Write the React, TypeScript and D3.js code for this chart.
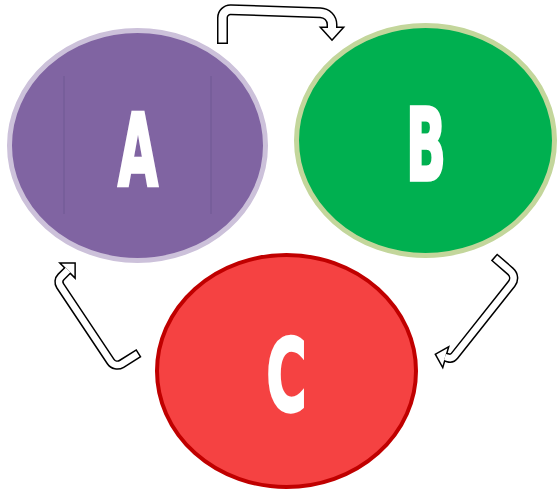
import * as d3 from "d3";

// cycle diagram: three nodes joined by block arrows
const labels = ["A", "B", "C"];
const fills = ["#8064a2", "#00b050", "#f54242"];
const rims = ["#ccc1da", "#c3d69b", "#c00000"];
const rimWidths = [5, 5, 4];

// layout (pixels)
const centers: [number, number][] = [
  [137.5, 145.5],
  [425.5, 140.5],
  [286.5, 371],
];
const radii: [number, number][] = [
  [128, 115],
  [129, 115],
  [129.5, 116],
];
const letterBottoms = [185, 180, 411];
const letterX = [138, 426, 286.5];

// arrow centrelines: A -> B, B -> C, C -> A
const arrows = [
  { pts: [[222.5, 44], [222.5, 9.5], [332, 13], [332, 28]], r: [8, 12], w: 8, hw: 10, hl: 11 },
  { pts: [[494, 257], [517, 277], [452, 359], [445, 357]], r: [9, 6], w: 6.5, hw: 9, hl: 9 },
  { pts: [[139, 353], [115, 368], [57, 281], [68, 270]], r: [8, 7], w: 6.5, hw: 9, hl: 9 },
];

const OUT = 1.5;

function bandPath(pts: number[][], r: number[], trim: number) {
  const p = d3.path();
  const [x0, y0] = pts[0];
  const [x1, y1] = pts[1];
  const len = Math.hypot(x1 - x0, y1 - y0);
  p.moveTo(x0 + ((x1 - x0) / len) * trim, y0 + ((y1 - y0) / len) * trim);
  for (let i = 1; i < pts.length - 1; i++) {
    p.arcTo(pts[i][0], pts[i][1], pts[i + 1][0], pts[i + 1][1], r[i - 1]);
  }
  const last = pts[pts.length - 1];
  p.lineTo(last[0], last[1]);
  return p.toString();
}

function headPoints(pts: number[][], hw: number, hl: number) {
  const a = pts[pts.length - 2];
  const b = pts[pts.length - 1];
  const len = Math.hypot(b[0] - a[0], b[1] - a[1]);
  const dx = (b[0] - a[0]) / len;
  const dy = (b[1] - a[1]) / len;
  const left = [b[0] - dy * hw, b[1] + dx * hw];
  const right = [b[0] + dy * hw, b[1] - dx * hw];
  const tip = [b[0] + dx * hl, b[1] + dy * hl];
  return [left, tip, right].map((q) => q.join(",")).join(" ");
}

export default function App() {
  return (
    <svg
      width={557}
      height={491}
      style={{ position: "absolute", left: 0, top: 0, background: "#fff" }}
    >
      {labels.map((d, i) => (
        <g key={d}>
          <ellipse
            cx={centers[i][0]}
            cy={centers[i][1]}
            rx={radii[i][0]}
            ry={radii[i][1]}
            fill={fills[i]}
            stroke={rims[i]}
            strokeWidth={rimWidths[i]}
          />
        </g>
      ))}
      {/* faint guides inside A */}
      {[64, 211].map((x) => (
        <line key={x} x1={x} x2={x} y1={76} y2={214} stroke="#6a5590" strokeWidth={0.8} />
      ))}
      {labels.map((d, i) => (
        <text
          key={"t" + d}
          x={letterX[i]}
          y={letterBottoms[i]}
          textAnchor="middle"
          fontFamily="DejaVu Sans"
          fontWeight="bold"
          fontSize={100}
          textLength={40}
          lengthAdjust="spacingAndGlyphs"
          fill="#fff"
          stroke="#fff"
          strokeWidth={3.5}
          strokeLinejoin="miter"
        >
          {d}
        </text>
      ))}
      {arrows.map((a, i) => (
        <g key={"a" + i}>
          <path
            d={bandPath(a.pts, a.r, 0)}
            fill="none"
            stroke="#000"
            strokeWidth={a.w + 2 * OUT}
          />
          <polygon
            points={headPoints(a.pts, a.hw, a.hl)}
            fill="#000"
            stroke="#000"
            strokeWidth={2 * OUT}
            strokeLinejoin="miter"
          />
          <path
            d={bandPath(a.pts, a.r, OUT)}
            fill="none"
            stroke="#fff"
            strokeWidth={a.w}
          />
          <polygon points={headPoints(a.pts, a.hw, a.hl)} fill="#fff" />
        </g>
      ))}
    </svg>
  );
}
